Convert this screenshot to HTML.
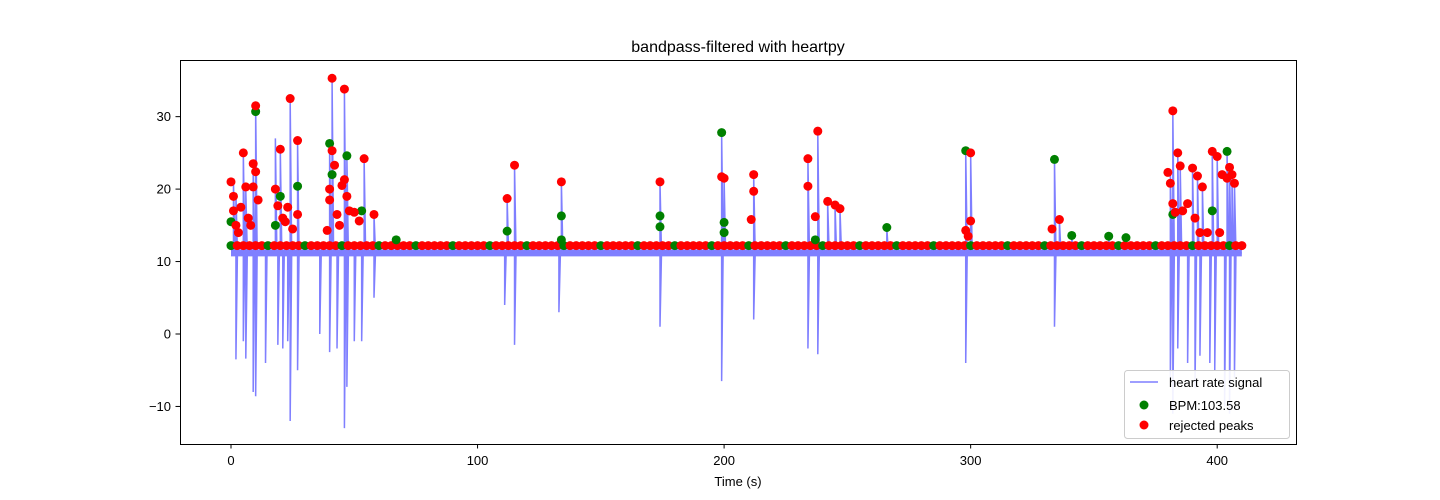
<!DOCTYPE html>
<html><head><meta charset="utf-8">
<style>
html,body{margin:0;padding:0;background:#fff;}
svg{display:block;font-family:"Liberation Sans","DejaVu Sans",sans-serif;}
</style></head>
<body>
<svg id="chart" width="1440" height="500">
  <text x="738" y="52" text-anchor="middle" font-size="16">bandpass-filtered with heartpy</text>
  <g id="plot"></g>
  <rect x="180.5" y="60.5" width="1116" height="384" fill="none" stroke="#000" stroke-width="1"/>
  <g id="xticks"></g>
  <g id="yticks"></g>
  <text x="738" y="486" text-anchor="middle" font-size="13">Time (s)</text>
  <g>
    <rect x="1124.5" y="370.5" width="165" height="68" rx="3" fill="#fff" fill-opacity="0.9" stroke="#ccc"/>
    <line x1="1130" y1="382" x2="1158" y2="382" stroke="#7f7fff" stroke-width="1.5"/>
    <text x="1169" y="387" font-size="13">heart rate signal</text>
    <circle cx="1144" cy="405" r="4.5" fill="#008000"/>
    <text x="1169" y="410" font-size="13">BPM:103.58</text>
    <circle cx="1144" cy="425" r="4.5" fill="#ff0000"/>
    <text x="1169" y="430" font-size="13">rejected peaks</text>
  </g>
</svg>
<script>
const xTicks=[0,100,200,300,400];
const yTicks=[-10,0,10,20,30];
const spikeUpT=[1,2,5,6,9,10,18,20,24,27,40,41,46,47,54,58,112,115,134,174,199,200,212,234,238,242,245,247,266,298,300,334,336,341,356,363,381,382,384,385,390,392,394,398,400,404,405,406,407];
const spikeUpV=[21,19.5,25,20,23.5,31.5,27,25.5,32.5,26.7,26.3,35.3,33.8,24.6,24.2,16.5,18.7,23.3,21,21,27.8,21.5,22,24.2,28,18.3,17.8,17.3,14.7,25.3,25,24.1,15.8,13.6,13.5,13.3,22.3,30.8,25,23.2,22.9,21.8,20.3,25.2,24.5,25.2,23,21.5,20.8];
const dipT=[2,5,6,9,10,14,19,21,23,24,27,36,40,43,46,47,50,53,58,111,115,133,174,199,212,234,238,298,334,381,382,384,388,391,393,397,399,403,405,407];
const dipV=[-3.5,-1,-3.4,-8,-8.6,-4,-1.5,-2,-1,-12,-5,0,-2.5,-2,-13,-7.3,-1,-1,5,4,-1.5,3,1,-6.5,2,-2,-2.8,-4,1,-6,-11,-2,-4,-7.5,-3,-4,-5,-10,-11,-6];
const acceptT=[0,10,18,20,27,40,41,47,53,67,112,134,134,174,174,199,200,200,237,266,298,334,341,356,363,382,398,404];
const acceptV=[15.5,30.7,15,19,20.4,26.3,22,24.6,17,13,14.2,16.3,13,16.3,14.8,27.8,15.4,14,13,14.7,25.3,24.1,13.6,13.5,13.3,16.5,17,25.2];
const rejectT=[0,1,1,2,3,4,5,6,7,8,9,9,10,10,11,18,19,20,21,22,23,24,25,27,27,39,40,40,41,41,42,43,44,45,46,46,47,48,50,52,54,58,112,115,134,174,199,200,211,212,212,234,234,237,238,242,245,247,298,299,300,300,333,336,380,381,382,382,383,384,385,386,388,390,391,392,393,394,396,398,400,401,402,404,405,406,407];
const rejectV=[21,19,17,15,14,17.5,25,20.3,16,15,23.5,20.3,31.5,22.4,18.5,20,17.7,25.5,16,15.5,17.5,32.5,14.5,26.7,16.5,14.3,20,18.5,35.3,25.3,23.3,16.5,15,20.5,33.8,21.3,19,17,16.8,15.6,24.2,16.5,18.7,23.3,21,21,21.7,21.5,15.8,22,19.7,24.2,20.4,16.2,28,18.3,17.8,17.3,14.3,13.5,25,15.6,14.5,15.8,22.3,20.8,30.8,18,16.8,25,23.2,17,18,22.9,16,21.8,14,20.3,14,25.2,24.5,14,22,21.5,23,22,20.8];
const baseStart=0, baseEnd=410, baseStep=2.5;
const baseVal=12.2, sigBase=11.2;

const xs=t=>231+t*2.4655, ys=v=>334-v*7.245;
const NS='http://www.w3.org/2000/svg';
const plot=document.getElementById('plot');
function mk(tag,attrs,parent){const e=document.createElementNS(NS,tag);for(const k in attrs)e.setAttribute(k,attrs[k]);parent.appendChild(e);return e;}

const ev=[];
spikeUpT.forEach((t,i)=>ev.push([t,spikeUpV[i]]));
dipT.forEach((t,i)=>ev.push([t,dipV[i]]));
ev.sort((a,b)=>a[0]-b[0]);
let d='M'+xs(0)+','+ys(sigBase);
ev.forEach(([t,v])=>{d+=' L'+xs(t)+','+ys(sigBase)+' L'+xs(t)+','+ys(v)+' L'+(xs(t)+1.5)+','+ys(sigBase);});
d+=' L'+xs(410)+','+ys(sigBase);
const band=mk('path',{d:'M'+xs(0)+','+ys(sigBase)+' L'+xs(410)+','+ys(sigBase),stroke:'#7f7fff','stroke-width':7,fill:'none'},plot);


const sig=mk('path',{d:d,stroke:'#7f7fff','stroke-width':1.5,fill:'none'},plot);



let k=0;
for(let t=baseStart;t<=baseEnd;t+=baseStep){
  const c=mk('circle',{cx:xs(t),cy:ys(baseVal),r:4.5,fill:(k%6===0)?'#008000':'#ff0000'},plot);
  
  
  k++;
}
acceptT.forEach((t,i)=>{
  const c=mk('circle',{cx:xs(t),cy:ys(acceptV[i]),r:4.5,fill:'#008000'},plot);
  
  
});
rejectT.forEach((t,i)=>{
  const c=mk('circle',{cx:xs(t),cy:ys(rejectV[i]),r:4.5,fill:'#ff0000'},plot);
  
  
});

const xg=document.getElementById('xticks');
xTicks.forEach(v=>{
  const l=mk('line',{x1:xs(v),x2:xs(v),y1:444,y2:448.5,stroke:'#000'},xg);
  
  
  const t=mk('text',{x:xs(v),y:465,'text-anchor':'middle','font-size':13},xg);
  t.textContent=v;
  
  
});
const yg=document.getElementById('yticks');
yTicks.forEach(v=>{
  const l=mk('line',{x1:175.5,x2:180,y1:ys(v),y2:ys(v),stroke:'#000'},yg);
  
  
  const t=mk('text',{x:171,y:ys(v)+4.5,'text-anchor':'end','font-size':13},yg);
  t.textContent=v<0?'\u2212'+(-v):v;
  
  
});
</script>
</body></html>
